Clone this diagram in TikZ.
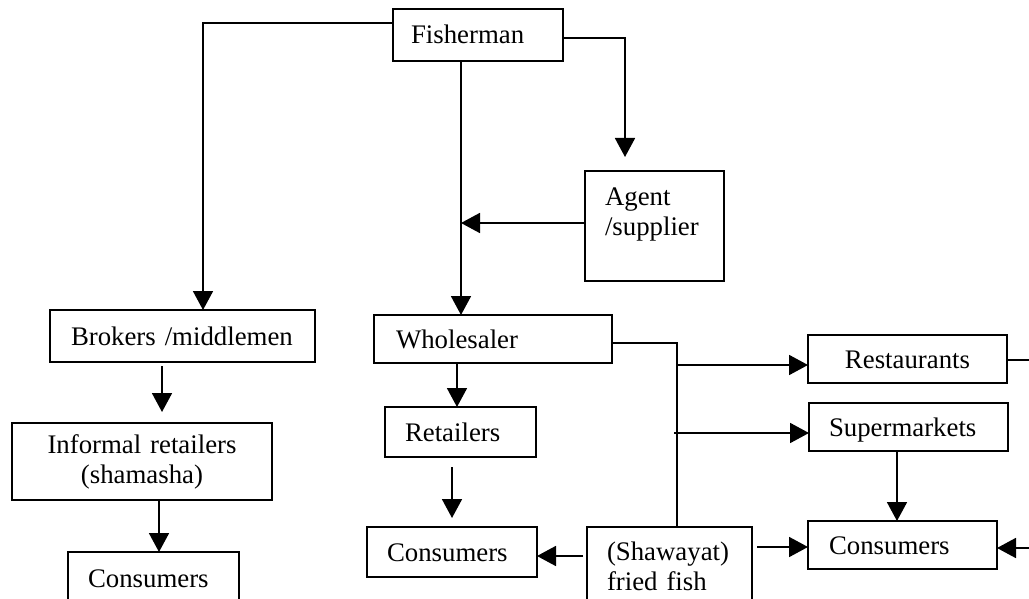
\documentclass[tikz,border=0pt]{standalone}
\usepackage{fontspec}
\setmainfont{Liberation Serif}
\usetikzlibrary{arrows.meta}
\begin{document}
\begin{tikzpicture}[x=1pt,y=-1pt,
  box/.style={draw, line width=1.8pt, anchor=north west, outer sep=0pt,
    inner ysep=0pt, font=\fontsize{26.8}{30}\selectfont, align=left},
  one/.style={text height=18pt, text depth=0pt},
  arr/.style={line width=1.8pt, -{Triangle[width=20pt,length=19pt]}},
  link/.style={line width=1.8pt}]
\useasboundingbox (0,0) rectangle (1029,599);

% boxes: top-left corner, left text inset, width, height
\node[box,one,inner xsep=18pt,text width=134pt,minimum height=52pt] (fisher) at (393,9) {Fisherman};
\node[box,inner xsep=20pt,text width=99pt,minimum height=110pt,text depth=58pt] (agent) at (585,171) {Agent\\/supplier};
\node[box,one,inner xsep=21pt,text width=223pt,minimum height=52pt] (brokers) at (50,310) {Brokers /middlemen};
\node[box,one,inner xsep=22pt,text width=194pt,minimum height=48pt] (whole) at (374,315) {Wholesaler};
\node[box,inner xsep=10pt,text width=240pt,minimum height=77pt,align=center] (informal) at (12,423) {Informal retailers\\(shamasha)};
\node[box,one,inner xsep=20pt,text width=131pt,minimum height=52pt] (conL) at (68,552) {Consumers};
\node[box,one,inner xsep=20pt,text width=111pt,minimum height=50pt] (retail) at (385,407) {Retailers};
\node[box,one,inner xsep=20pt,text width=130pt,minimum height=50pt] (conM) at (367,527) {Consumers};
\node[box,inner xsep=20pt,text width=125pt,minimum height=78pt] (shaw) at (587,527) {(Shawayat)\\fried fish};
\node[box,one,inner xsep=10pt,text width=179pt,minimum height=48pt,align=center] (rest) at (808,335) {Restaurants};
\node[box,one,inner xsep=20pt,text width=159pt,minimum height=48pt] (super) at (809,403) {Supermarkets};
\node[box,one,inner xsep=21pt,text width=147pt,minimum height=48pt] (conR) at (808,521) {Consumers};

% bends and loose ends of the connectors
\coordinate (fl) at (203,23);
\coordinate (fr) at (625,38);
\coordinate (agtip) at (625,157);
\coordinate (fd) at (461,0);
\coordinate (ag) at (461,223);
\coordinate (bus) at (677,343);
\coordinate (jr) at (677,365);
\coordinate (js) at (674,433);
\coordinate (ys) at (0,556);
\coordinate (yr) at (0,547);
\coordinate (re) at (1029,360);
\coordinate (ce) at (1029,548);

% from the fisherman
\draw[arr] (fisher.west |- fl) -- (fl) -- (fl |- brokers.north);
\draw[arr] (fisher.east |- fr) -- (fr) -- (agtip);
\draw[arr] (fisher.south -| fd) -- (whole.north -| fd);
\draw[arr] (agent.west |- ag) -- (ag);

% informal chain
\draw[arr, shorten <=4pt, shorten >=11pt] ([xshift=-20.5pt]brokers.south) -- ([xshift=-20.5pt]brokers.south |- informal.north);
\draw[arr] ([xshift=17pt]informal.south) -- ([xshift=17pt]informal.south |- conL.north);

% wholesaler chain
\draw[arr] ([xshift=-36pt]whole.south) -- ([xshift=-36pt]whole.south |- retail.north);
\draw[arr, shorten <=10pt, shorten >=9pt] ([xshift=-8.5pt]retail.south) -- ([xshift=-8.5pt]retail.south |- conM.north);
\draw[link] (whole.east |- bus) -- (bus) -- (bus |- shaw.north);
\draw[arr] (jr) -- (jr -| rest.west);
\draw[arr] (js) -- (js -| super.west);
\draw[arr] ([xshift=-11.5pt]super.south) -- ([xshift=-11.5pt]super.south |- conR.north);
\draw[arr, shorten <=4pt] (shaw.west |- ys) -- (conM.east |- ys);
\draw[arr, shorten <=5pt] (shaw.east |- yr) -- (conR.west |- yr);
\draw[link] (rest.east |- re) -- (re);
\draw[arr] (ce) -- (ce -| conR.east);
\end{tikzpicture}
\end{document}
